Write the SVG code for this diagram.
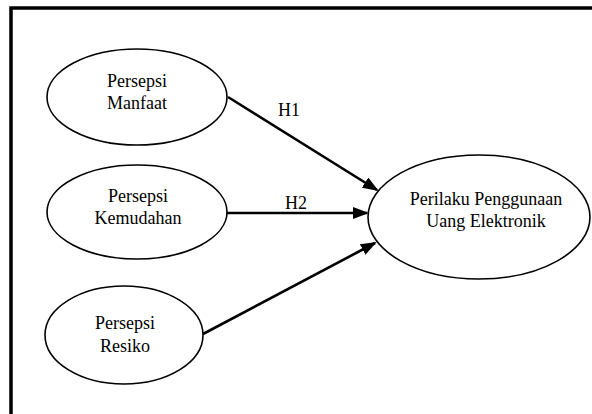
<svg xmlns="http://www.w3.org/2000/svg" width="592" height="414" viewBox="0 0 592 414">
<style>
.node ellipse{fill:#fff;stroke:#000;stroke-width:1.6}
text{font-family:"Liberation Serif","Times New Roman",serif;font-size:18px;fill:#000;text-anchor:middle}
.edge{stroke:#000;stroke-width:2.6;fill:none;marker-end:url(#ah)}
</style>
<defs>
<marker id="ah" markerWidth="16" markerHeight="12" refX="14" refY="6" orient="auto" markerUnits="userSpaceOnUse">
<path d="M0,0 L16,6 L0,12 Z" fill="#000"/>
</marker>
</defs>
<rect width="592" height="414" fill="#fff"/>
<path d="M11,414 L11,8 L592,8" fill="none" stroke="#000" stroke-width="3.5"/>
<g id="connectors">
<line class="edge" x1="228" y1="97" x2="377" y2="190"/>
<line class="edge" x1="227" y1="213" x2="367" y2="213"/>
<line class="edge" x1="203" y1="334" x2="375" y2="243"/>
<text x="289" y="116">H1</text>
<text x="296" y="209">H2</text>
</g>
<g id="n1" class="node">
<ellipse cx="137" cy="97" rx="90" ry="48"/>
<text x="137" y="87">Persepsi</text>
<text x="137" y="109">Manfaat</text>
</g>
<g id="n2" class="node">
<ellipse cx="137" cy="212" rx="90" ry="47"/>
<text x="138" y="202">Persepsi</text>
<text x="138" y="224">Kemudahan</text>
</g>
<g id="n3" class="node">
<ellipse cx="124" cy="335" rx="79" ry="49"/>
<text x="125" y="329">Persepsi</text>
<text x="125" y="352">Resiko</text>
</g>
<g id="n4" class="node">
<ellipse cx="479" cy="217" rx="111" ry="62"/>
<text x="486" y="205">Perilaku Penggunaan</text>
<text x="486" y="227">Uang Elektronik</text>
</g>
</svg>
